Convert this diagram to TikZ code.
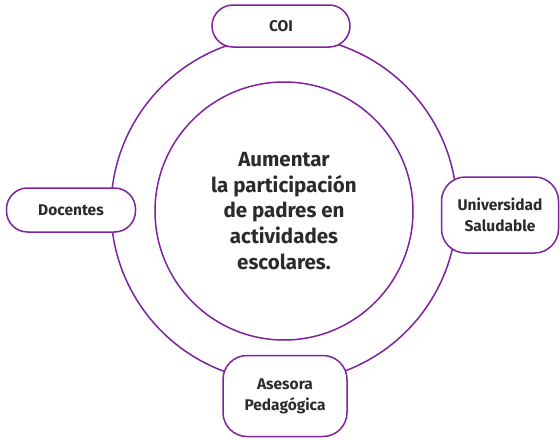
\documentclass[tikz,border=0pt]{standalone}
\usepackage{fontspec}
\setmainfont{Fira Sans}
\definecolor{ringpurple}{RGB}{128,34,158}
\definecolor{txtgray}{RGB}{43,43,43}

\begin{document}
\begin{tikzpicture}[x=1pt, y=-1pt,
    every node/.style={text=txtgray, font=\bfseries},
    pill/.style={draw=ringpurple, line width=1.5pt, fill=white, rounded corners=21pt,
                 align=center, font=\bfseries\fontsize{15.5}{19}\selectfont},
    roundbox/.style={draw=ringpurple, line width=1.5pt, fill=white, rounded corners=24pt,
                 align=center, font=\bfseries\fontsize{15.5}{21}\selectfont}]

    % Picture frame
    \useasboundingbox (0,0) rectangle (560,439);

    % Define circle sizes
    \def\ringrad{173} % radius of the outer ring
    \def\goalrad{129} % radius of the inner circle

    % Outer ring and inner circle
    \node[circle, draw=ringpurple, line width=1.5pt, minimum size=2*\ringrad pt, inner sep=0pt] (ring) at (284,209) {};
    \node[circle, draw=ringpurple, line width=1.5pt, minimum size=2*\goalrad pt, inner sep=0pt,
          align=center, font=\bfseries\fontsize{20.5}{25.7}\selectfont] (goal) at (284,211)
        {Aumentar\\la participación\\de padres en\\actividades\\escolares.};

    % Satellite boxes on the ring
    \node[pill, minimum width=138pt, minimum height=42pt] (coi) at (281,26) {COI};
    \node[pill, minimum width=129pt, minimum height=44pt] (docentes) at (71,210) {Docentes};
    \node[roundbox, minimum width=117pt, minimum height=76pt] (salud) at (500,215) {Universidad\\Saludable};
    \node[roundbox, minimum width=124pt, minimum height=81pt] (asesora) at (285,396) {Asesora\\Pedagógica};

\end{tikzpicture}
\end{document}
